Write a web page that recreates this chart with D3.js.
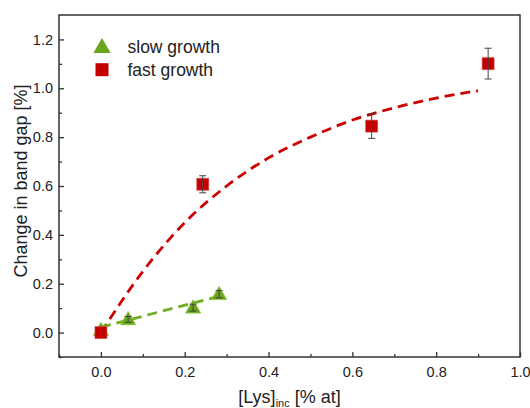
<!DOCTYPE html>
<html>
<head>
<meta charset="utf-8">
<script src="https://cdn.jsdelivr.net/npm/d3@7"></script>
<style>
  html, body { margin: 0; padding: 0; background: #fff; }
  svg { display: block; font-family: "Liberation Sans", Arial, sans-serif; }
</style>
</head>
<body>
<svg id="chart" width="530" height="408"></svg>
<script>
// ---- data ----
const slowX = [0.0, 0.065, 0.22, 0.282];
const slowY = [0.01, 0.054, 0.102, 0.157];
const slowErr = [0.005, 0.012, 0.014, 0.015];

const fastX = [0.0, 0.243, 0.646, 0.924];
const fastY = [0.0, 0.607, 0.845, 1.101];
const fastErr = [0.01, 0.035, 0.05, 0.063];

const fastFitX = [0.0, 0.1, 0.2, 0.3, 0.4, 0.5, 0.6, 0.7, 0.8, 0.9];
const fastFitY = [0.0, 0.25, 0.45, 0.60, 0.715, 0.80, 0.87, 0.92, 0.96, 0.99];
const slowFitX = [0.0, 0.28];
const slowFitY = [0.022, 0.148];

const xTicks = [0.0, 0.2, 0.4, 0.6, 0.8, 1.0];
const xMinor = [-0.1, 0.1, 0.3, 0.5, 0.7, 0.9];
const yTicks = [0.0, 0.2, 0.4, 0.6, 0.8, 1.0, 1.2];
const yMinor = [-0.1, 0.1, 0.3, 0.5, 0.7, 0.9, 1.1];

const seriesNames = ["slow growth", "fast growth"];

// ---- layout ----
const L = 59, R = 520, T = 15, B = 357;
const svg = d3.select("#chart");
const x = d3.scaleLinear().domain([-0.1, 1.0]).range([L, R]);
const y = d3.scaleLinear().domain([-0.1, 1.3]).range([B, T]);

const green = "#6aa51e", red = "#c40000";
const axisCol = "#333";

// axes (ticks inward)
const xAxis = d3.axisBottom(x).tickValues(xTicks).tickSizeInner(-5).tickSizeOuter(0)
  .tickPadding(10).tickFormat(d3.format(".1f"));
const gx = svg.append("g").attr("transform", `translate(0,${B})`).call(xAxis);
const xMin = d3.axisBottom(x).tickValues(xMinor).tickSizeInner(-3).tickSizeOuter(0).tickFormat("");
const gxm = svg.append("g").attr("transform", `translate(0,${B})`).call(xMin);

const yAxis = d3.axisLeft(y).tickValues(yTicks).tickSizeInner(-5).tickSizeOuter(0)
  .tickPadding(6).tickFormat(d3.format(".1f"));
const gy = svg.append("g").attr("transform", `translate(${L},0)`).call(yAxis);
const yMin = d3.axisLeft(y).tickValues(yMinor).tickSizeInner(-3).tickSizeOuter(0).tickFormat("");
const gym = svg.append("g").attr("transform", `translate(${L},0)`).call(yMin);

[gx, gxm, gy, gym].forEach(g => {
  g.select(".domain").remove();
  g.selectAll(".tick line").attr("stroke", axisCol).attr("stroke-width", 1.3);
  g.selectAll(".tick text").attr("fill", "#222").style("font-size", "14.5px")
    .style("font-family", '"Liberation Sans", Arial, sans-serif');
});

// frame
svg.append("rect").attr("x", L).attr("y", T).attr("width", R - L).attr("height", B - T)
  .attr("fill", "none").attr("stroke", axisCol).attr("stroke-width", 1.5);

// fit lines
const line = d3.line().x(d => x(d[0])).y(d => y(d[1])).curve(d3.curveMonotoneX);
svg.append("path").datum(fastFitX.map((v, i) => [v, fastFitY[i]]))
  .attr("d", line).attr("fill", "none").attr("stroke", "#cc0000")
  .attr("stroke-width", 2.8).attr("stroke-dasharray", "10,6");
svg.append("path").datum(slowFitX.map((v, i) => [v, slowFitY[i]]))
  .attr("d", line).attr("fill", "none").attr("stroke", "#6fae1f")
  .attr("stroke-width", 2.8).attr("stroke-dasharray", "10,6");

// markers
const tri = d3.symbol().type(d3.symbolTriangle).size(100);
const sq = d3.symbol().type(d3.symbolSquare).size(144);

svg.append("g").selectAll("path").data(slowX.map((v, i) => [v, slowY[i]])).join("path")
  .attr("d", tri).attr("transform", d => `translate(${x(d[0])},${y(d[1]) + 1})`)
  .attr("fill", green).attr("stroke", "#8cc63f").attr("stroke-width", 0.8);

svg.append("g").selectAll("path").data(fastX.map((v, i) => [v, fastY[i]])).join("path")
  .attr("d", sq).attr("transform", d => `translate(${x(d[0])},${y(d[1])})`)
  .attr("fill", red).attr("stroke", "#d84a4a").attr("stroke-width", 0.6);

// error bars
function errBars(xs, ys, es, cap) {
  const g = svg.append("g").attr("stroke", "#444").attr("stroke-width", 1);
  xs.forEach((v, i) => {
    const cx = x(v), y0 = y(ys[i] - es[i]), y1 = y(ys[i] + es[i]);
    g.append("line").attr("x1", cx).attr("x2", cx).attr("y1", y0).attr("y2", y1);
    g.append("line").attr("x1", cx - cap).attr("x2", cx + cap).attr("y1", y0).attr("y2", y0);
    g.append("line").attr("x1", cx - cap).attr("x2", cx + cap).attr("y1", y1).attr("y2", y1);
  });
}
errBars(slowX.slice(1), slowY.slice(1), slowErr.slice(1), 3.5);
errBars(fastX.slice(1), fastY.slice(1), fastErr.slice(1), 3.5);

// legend
const lg = svg.append("g");
lg.append("path").attr("d", d3.symbol().type(d3.symbolTriangle).size(130))
  .attr("transform", "translate(102,48)").attr("fill", green);
lg.append("path").attr("d", d3.symbol().type(d3.symbolSquare).size(169))
  .attr("transform", "translate(102,69.7)").attr("fill", red);
lg.append("text").attr("x", 127.5).attr("y", 52.7).text(seriesNames[0])
  .style("font-size", "17.5px").attr("fill", "#222");
lg.append("text").attr("x", 127.5).attr("y", 75.8).text(seriesNames[1])
  .style("font-size", "17.5px").attr("fill", "#222");

// axis titles
const xl = svg.append("text").attr("x", (L + R) / 2 + 0).attr("y", 403)
  .attr("text-anchor", "middle").attr("fill", "#222").style("font-size", "18px");
xl.append("tspan").text("[Lys]");
xl.append("tspan").text("inc").style("font-size", "11px").attr("dy", 4);
xl.append("tspan").text(" [% at]").attr("dy", -4);

svg.append("text").attr("transform", `translate(27,${181}) rotate(-90)`)
  .attr("text-anchor", "middle").attr("fill", "#222").style("font-size", "18px")
  .text("Change in band gap [%]");
</script>
</body>
</html>
